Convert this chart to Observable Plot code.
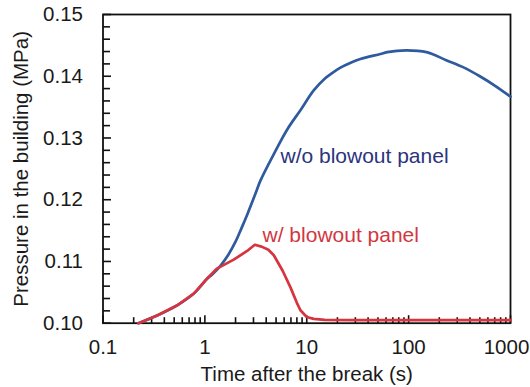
<!DOCTYPE html>
<html><head><meta charset="utf-8">
<script src="https://cdn.jsdelivr.net/npm/d3@7"></script>
<script src="https://cdn.jsdelivr.net/npm/@observablehq/plot@0.6"></script>
<style>body{margin:0;background:#fff}</style>
</head><body><div id="chart"></div>
<script>
// w/o blowout panel
const tWithout = [0.223, 0.34, 0.535, 0.778, 1.05, 1.18, 1.42, 1.70, 2.00, 2.29, 2.62, 3.14, 3.51, 4.75, 6.5, 8.67, 11.7, 15, 17.7, 21.4, 27, 33.6, 52.8, 61.5, 95, 150, 234, 350, 500, 700, 1000];
const pWithout = [0.1000, 0.10125, 0.1029, 0.1048, 0.1072, 0.1079, 0.1093, 0.1111, 0.1132, 0.1154, 0.1177, 0.1210, 0.1231, 0.1274, 0.1315, 0.1345, 0.1377, 0.1396, 0.1405, 0.1414, 0.1422, 0.1428, 0.1436, 0.1439, 0.1442, 0.1439, 0.1426, 0.1414, 0.1400, 0.1385, 0.1367];
// w/ blowout panel
const tWith = [0.223, 0.34, 0.535, 0.778, 1.05, 1.3, 1.92, 2.6, 3.09, 3.6, 4.2, 4.75, 5.8, 6.92, 8.0, 8.67, 10, 11.7, 15, 30, 100, 1000];
const pWith = [0.1000, 0.10125, 0.1029, 0.1048, 0.1072, 0.1088, 0.1103, 0.1117, 0.1127, 0.1124, 0.1119, 0.1110, 0.1085, 0.1058, 0.1033, 0.1021, 0.1010, 0.1007, 0.10055, 0.1005, 0.1005, 0.1005];

const xMajorTicks = [0.1, 1, 10, 100, 1000];
const xTickLabels = ["0.1", "1", "10", "100", "1000"];
const xMinorTicks = [0.2, 0.3, 0.4, 0.5, 0.6, 0.7, 0.8, 0.9, 2, 3, 4, 5, 6, 7, 8, 9, 20, 30, 40, 50, 60, 70, 80, 90, 200, 300, 400, 500, 600, 700, 800, 900];
const yMajorTicks = [0.10, 0.11, 0.12, 0.13, 0.14, 0.15];
const yTickLabels = ["0.10", "0.11", "0.12", "0.13", "0.14", "0.15"];
const yMinorTicks = [0.102, 0.104, 0.106, 0.108, 0.112, 0.114, 0.116, 0.118, 0.122, 0.124, 0.126, 0.128, 0.132, 0.134, 0.136, 0.138, 0.142, 0.144, 0.146, 0.148];

const seriesNames = ["w/o blowout panel", "w/ blowout panel"];
const labelT = [5.52, 3.68];
const labelP = [0.1270, 0.1142];
const lineColors = ["#2f5b9e", "#d6343f"];
const textColors = ["#2b347d", "#d2373f"];

const xDomain = [0.1, 1000];
const yDomain = [0.10, 0.15];

const without = tWithout.map((t, i) => ({t, p: pWithout[i]}));
const withP = tWith.map((t, i) => ({t, p: pWith[i]}));
const labelData = seriesNames.map((s, i) => ({s, t: labelT[i], p: labelP[i], c: textColors[i]}));
const fmtX = d => xTickLabels[xMajorTicks.indexOf(d)];
const fmtY = d => yTickLabels[yMajorTicks.indexOf(d)];

const tickShape = {draw(context, l) { context.moveTo(0, 0); context.lineTo(0, -l); }};
const tickStyle = {anchor: "start", shape: tickShape, stroke: "#111", strokeWidth: 1.6, strokeLinecap: "butt"};

const chart = Plot.plot({
  width: 530, height: 387,
  marginLeft: 102.5, marginRight: 20, marginTop: 14, marginBottom: 64.3,
  style: {fontFamily: "'Liberation Sans', Arial, Helvetica, sans-serif", fontSize: "20.5px", color: "#1a1a1a", background: "#fff"},
  x: {type: "log", domain: xDomain},
  y: {domain: yDomain},
  marks: [
    Plot.frame({stroke: "#111", fill: "none", strokeWidth: 1.8}),
    // inward ticks
    Plot.vector(xMinorTicks, {x: d => d, y: () => yDomain[0], length: 6, rotate: 0, ...tickStyle}),
    Plot.vector(xMajorTicks, {x: d => d, y: () => yDomain[0], length: 8, rotate: 0, ...tickStyle}),
    Plot.vector(yMinorTicks, {x: () => xDomain[0], y: d => d, length: 7, rotate: 90, ...tickStyle}),
    Plot.vector(yMajorTicks, {x: () => xDomain[0], y: d => d, length: 8, rotate: 90, ...tickStyle}),
    Plot.axisX(xMajorTicks.slice(0, 4), {tickSize: 0, tickPadding: 16, tickFormat: fmtX,
      label: "Time after the break (s)", labelAnchor: "center", labelOffset: 58, labelArrow: "none", fontSize: 20.5}),
    Plot.axisX(xMajorTicks.slice(4), {tickSize: 0, tickPadding: 16, tickFormat: fmtX, dx: -4, label: null, fontSize: 20.5}),
    Plot.axisY(yMajorTicks, {tickSize: 0, tickPadding: 20, tickFormat: fmtY,
      label: "Pressure in the building (MPa)", labelAnchor: "center", labelOffset: 89.5, labelArrow: "none", fontSize: 20.5}),
    Plot.line(without, {x: "t", y: "p", stroke: lineColors[0], strokeWidth: 2.7, curve: "catmull-rom"}),
    Plot.line(withP, {x: "t", y: "p", stroke: lineColors[1], strokeWidth: 2.7, curve: "linear"}),
    Plot.text(labelData, {x: "t", y: "p", text: "s", fill: "c", textAnchor: "start", fontSize: 21})
  ]
});
document.getElementById("chart").appendChild(chart);
</script>
</body></html>
